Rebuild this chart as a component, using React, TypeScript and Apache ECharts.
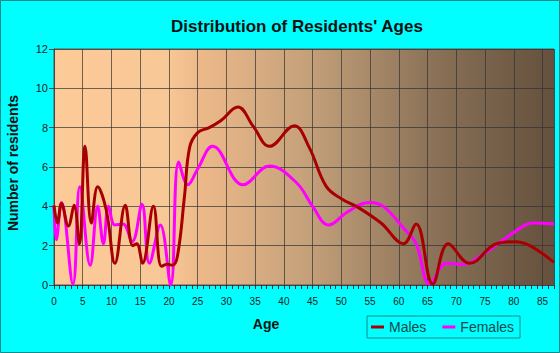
import React, { useEffect, useRef } from "react";
import * as echarts from "echarts";

const title = "Distribution of Residents' Ages";
const seriesNames = ["Males", "Females"];
const maleAges = [0, 0.6, 1.3, 2.5, 3.5, 4.4, 5.4, 6.5, 7.6, 9.1, 10.6, 12.4, 13.7, 14.4, 15.4, 17.3, 18.7, 19.7, 20.6, 21.5, 22.7, 23.6, 25, 27, 29, 32, 34.7, 37.5, 41.8, 44.4, 47.4, 50.2, 52.6, 56.9, 60.8, 63, 65.9, 68.6, 72.3, 77, 80.2, 82.8, 87];
const maleValues = [4.05, 3.15, 4.15, 3.0, 4.05, 2.1, 7.05, 3.15, 5.0, 3.8, 1.1, 4.05, 2.0, 2.1, 1.1, 4.0, 0.95, 1.05, 1.0, 1.5, 4.5, 7.0, 7.75, 8.0, 8.35, 9.05, 8.05, 7.05, 8.1, 7.0, 5.0, 4.35, 4.0, 3.15, 2.1, 3.1, 0.05, 2.1, 1.1, 2.1, 2.2, 2.0, 1.15];
const femaleAges = [0, 0.4, 1.3, 3.3, 4.5, 6.3, 7.6, 8.6, 9.5, 10.6, 12, 13.6, 15.3, 16.6, 18.5, 20.3, 21.7, 23.3, 25, 27.6, 32.9, 37.5, 42.2, 45, 47.8, 51, 54.9, 57.3, 60.8, 63, 65.4, 68.3, 71.2, 74.1, 79.9, 83.4, 87];
const femaleValues = [4.0, 2.3, 4.2, 0.05, 5.0, 1.0, 4.0, 2.1, 4.0, 3.05, 3.1, 2.2, 4.1, 1.1, 3.05, 0.0, 6.25, 5.1, 5.9, 7.05, 5.1, 6.05, 5.2, 4.0, 3.05, 3.7, 4.2, 4.0, 2.9, 2.1, 0.05, 1.1, 1.05, 1.45, 2.65, 3.15, 3.1];
const xAxisTitle = "Age";
const yAxisTitle = "Number of residents";

export default function App() {
  const ref = useRef<HTMLDivElement>(null);
  useEffect(() => {
    document.body.style.margin = "0";
    if (!ref.current) return;
    const chart = echarts.init(ref.current, null, { renderer: "svg" });
    const font = "'Liberation Sans', Arial, sans-serif";
    chart.setOption({
      animation: false,
      backgroundColor: "#00FFFF",
      title: {
        text: title,
        left: 292,
        top: 13,
        textAlign: "center",
        textStyle: { fontFamily: font, fontSize: 17, fontWeight: "bold", color: "#111" },
      },
      legend: {
        left: 367,
        top: 316,
        data: seriesNames,
        icon: "rect",
        itemWidth: 13,
        itemHeight: 3,
        itemGap: 16,
        padding: [4, 6, 4, 4],
        borderColor: "#168a8a",
        borderWidth: 1,
        textStyle: { fontFamily: font, fontSize: 14, color: "#134a4a" },
      },
      grid: {
        left: 54,
        right: 6,
        top: 49,
        bottom: 68,
        show: true,
        borderColor: "#555",
        borderWidth: 1,
        backgroundColor: {
          type: "linear",
          x: 0,
          y: 0,
          x2: 1,
          y2: 0,
          colorStops: [
            { offset: 0, color: "#FCCB98" },
            { offset: 0.23, color: "#F8C796" },
            { offset: 0.29, color: "#EDB98A" },
            { offset: 0.51, color: "#C4A07A" },
            { offset: 0.75, color: "#8C7359" },
            { offset: 1, color: "#64503D" },
          ],
        },
      },
      xAxis: {
        type: "value",
        min: 0,
        max: 87,
        interval: 5,
        axisLine: { show: true, lineStyle: { color: "#444" } },
        axisTick: { show: true, length: 4, lineStyle: { color: "#333" } },
        minorTick: { show: true, splitNumber: 5, length: 4, lineStyle: { color: "#333" } },
        splitLine: { show: true, lineStyle: { color: "rgba(50,50,50,0.7)" } },
        axisLabel: { showMaxLabel: false, fontFamily: font, fontSize: 10, color: "#222", margin: 11 },
      },
      yAxis: {
        type: "value",
        min: 0,
        max: 12,
        interval: 2,
        axisLine: { show: true, lineStyle: { color: "#444" } },
        axisTick: { show: true, length: 5, lineStyle: { color: "#444" } },
        splitLine: { show: true, lineStyle: { color: "rgba(50,50,50,0.7)" } },
        axisLabel: { fontFamily: font, fontSize: 11, color: "#222", margin: 6 },
      },
      graphic: [
        {
          type: "rect",
          shape: { x: 0.5, y: 0.5, width: 559, height: 352 },
          style: { fill: "none", stroke: "#168a8a", lineWidth: 1 },
          silent: true,
        },
        {
          type: "text",
          x: 266,
          y: 324,
          style: { text: xAxisTitle, fontFamily: font, fontSize: 14, fontWeight: "bold", fill: "#111", align: "center", verticalAlign: "middle" },
        },
        {
          type: "text",
          x: 13,
          y: 163,
          rotation: Math.PI / 2,
          style: { text: yAxisTitle, fontFamily: font, fontSize: 14, fontWeight: "bold", fill: "#111", align: "center", verticalAlign: "middle" },
        },
      ],
      series: [
        {
          name: seriesNames[0],
          type: "line",
          smooth: 0.4,
          showSymbol: false,
          symbol: "none",
          color: "#A80000",
          lineStyle: { width: 3, color: "#A80000" },
          data: maleAges.map((a, i) => [a, maleValues[i]]),
          z: 3,
        },
        {
          name: seriesNames[1],
          type: "line",
          smooth: 0.4,
          showSymbol: false,
          symbol: "none",
          color: "#FF00FF",
          lineStyle: { width: 3, color: "#FF00FF" },
          data: femaleAges.map((a, i) => [a, femaleValues[i]]),
          z: 2,
        },
      ],
    });
    return () => chart.dispose();
  }, []);
  return <div ref={ref} style={{ width: 560, height: 353 }} />;
}
